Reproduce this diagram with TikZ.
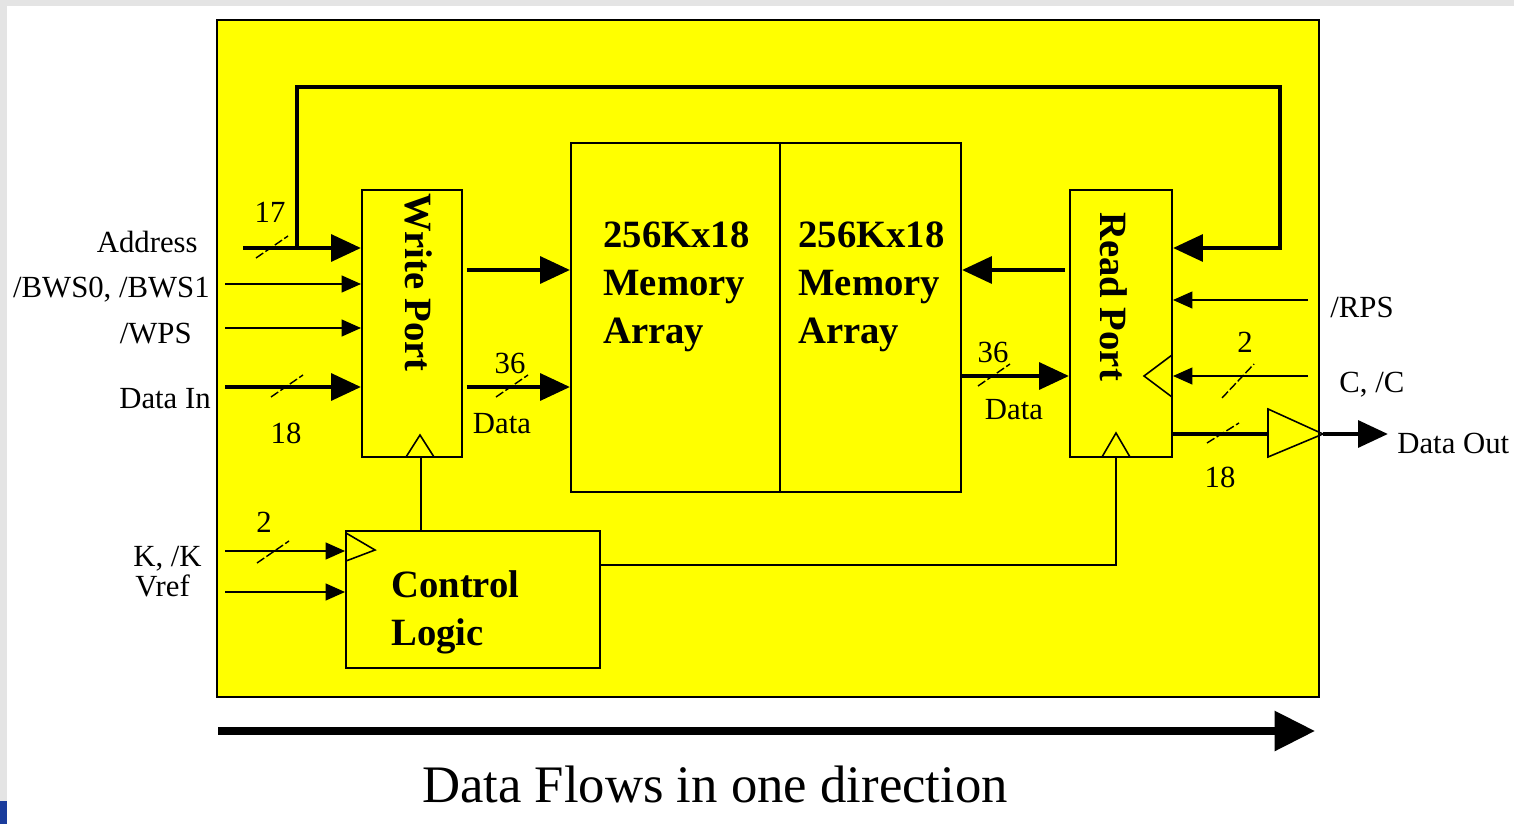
\documentclass[tikz,border=0pt]{standalone}
\usepackage{fontspec}
\setmainfont{Liberation Serif}
\usetikzlibrary{arrows.meta}
\definecolor{chipyellow}{HTML}{FFFF00}
\definecolor{framegrey}{HTML}{E4E4E4}
\definecolor{logoblue}{HTML}{1A3C9C}

\begin{document}
\begin{tikzpicture}[x=0.02cm, y=-0.02cm,
  lbl/.style={font=\fontsize{17.5}{20}\selectfont, inner sep=0pt},
  boldlbl/.style={font=\fontsize{22}{27.5}\selectfont\bfseries, inner sep=0pt, align=left},
  blockbox/.style={draw, line width=1.1pt, fill=chipyellow, inner sep=0pt},
  thickarrow/.style={line width=2.8pt, -{Triangle[length=17pt, width=15pt]}},
  thinarrow/.style={line width=1.1pt, -{Triangle[length=11pt, width=9.5pt]}},
  thinline/.style={line width=0.9pt},
  slash/.style={line width=0.8pt, dash pattern=on 5pt off 1.5pt}]
  \useasboundingbox (0,0) rectangle (1514,824);
  % screen frame
  \fill[framegrey] (0,0) rectangle (1514,824);
  \fill[white] (7,6) rectangle (1514,824);
  \fill[logoblue] (0,801) rectangle (7,824);
  % chip outline
  \draw[line width=1.1pt, fill=chipyellow] (217,20) rectangle (1319,697);
  % blocks
  \node[blockbox, minimum width=2cm, minimum height=5.34cm] (wport) at (412,323.5) {};
  \node[blockbox, minimum width=4.18cm, minimum height=6.98cm] (mema) at (675.5,317.5) {};
  \node[blockbox, minimum width=3.62cm, minimum height=6.98cm] (memb) at (870.5,317.5) {};
  \node[blockbox, minimum width=2.04cm, minimum height=5.34cm] (rport) at (1121,323.5) {};
  \node[blockbox, minimum width=5.08cm, minimum height=2.74cm] (ctrl) at (473,599.5) {};
  % block texts
  \node[boldlbl, rotate=-90, anchor=west] (wporttxt) at (419,193) {Write Port};
  \node[boldlbl, rotate=-90, anchor=west] (rporttxt) at (1114,212) {Read Port};
  \node[boldlbl, anchor=north west] (mematxt) at (603,221) {256Kx18\\Memory\\Array};
  \node[boldlbl, anchor=north west] (membtxt) at (798,221) {256Kx18\\Memory\\Array};
  \node[boldlbl, anchor=north west] (ctrltxt) at (391,570) {Control\\Logic};
  % free ends and corners
  \coordinate (addrin) at (243,248);
  \coordinate (bwsin) at (225,284);
  \coordinate (wpsin) at (225,328);
  \coordinate (dinin) at (225,387);
  \coordinate (kin) at (225,551);
  \coordinate (vrefin) at (225,592);
  \coordinate (rpsin) at (1308,300);
  \coordinate (cin) at (1308,376);
  \coordinate (junc) at (297,248);
  \coordinate (fbtop) at (297,87);
  \coordinate (fbr) at (1280,248);
  \coordinate (ya) at (0,270);
  \coordinate (yb) at (0,387);
  \coordinate (yc) at (0,376);
  \coordinate (wclk) at (421,457);
  \coordinate (rclk) at (1116,457);
  \coordinate (ctrlout) at (600,565);
  \coordinate (bufin) at (1268,434);
  \coordinate (bufout) at (1323,434);
  \coordinate (dout) at (1388,434);
  \coordinate (flowl) at (218,731);
  \coordinate (flowr) at (1315,731);
  % inputs of write port and control logic
  \draw[thickarrow] (addrin) -- (addrin -| wport.west);
  \draw[thinarrow] (bwsin) -- (bwsin -| wport.west);
  \draw[thinarrow] (wpsin) -- (wpsin -| wport.west);
  \draw[thickarrow] (dinin) -- (dinin -| wport.west);
  \draw[thinarrow] (kin) -- (kin -| ctrl.west);
  \draw[thinarrow] (vrefin) -- (vrefin -| ctrl.west);
  % address feedback to read port
  \draw[thickarrow] (junc) -- (fbtop) -| (fbr) -- (fbr -| rport.east);
  % data paths through the arrays
  \draw[thickarrow, shorten <=2.2pt] (wport.east |- ya) -- (mema.west |- ya);
  \draw[thickarrow, shorten <=2.2pt] (wport.east |- yb) -- (mema.west |- yb);
  \draw[thickarrow, shorten <=2.2pt] (rport.west |- ya) -- (memb.east |- ya);
  \draw[thickarrow] (memb.east |- yc) -- (rport.west |- yc);
  % inputs of read port
  \draw[thinarrow] (rpsin) -- (rpsin -| rport.east);
  \draw[thinarrow] (cin) -- (cin -| rport.east);
  % clock lines
  \draw[thinline] (wclk |- ctrl.north) -- (wclk);
  \draw[thinline] (ctrlout) -| (rclk);
  % clock inputs
  \draw[thinline] (406,457) -- (420,435) -- (434,457);
  \draw[thinline] (1102,457) -- (1116,433) -- (1130,457);
  \draw[thinline] (1172,355) -- (1144,376) -- (1172,397);
  \draw[thinline] (346,533) -- (375,550) -- (346,561);
  % output buffer
  \draw[line width=2.8pt] (rport.east |- bufin) -- (bufin);
  \draw[thinline] (1268,409) -- (bufout) -- (1268,457) -- cycle;
  \draw[thickarrow] (bufout) -- (dout);
  % bus slashes
  \foreach \x/\y/\h in {272/247/11, 287/386/11, 512/386/11, 273/552/11, 994/375/11, 1238/381/17, 1223/433/10}
    \draw[slash] (\x-16,\y+\h) -- (\x+16,\y-\h);
  % bus widths
  \foreach \x/\y/\w in {270/223/17, 286/443/18, 510/373/36, 993/362/36, 1245/352/2, 1220/487/18, 264/532/2}
    \node[lbl, anchor=base] (bw\x) at (\x,\y) {\w};
  % signal names
  \node[lbl, anchor=base east] (addrlbl) at (198,253) {Address};
  \node[lbl, anchor=base east] (bwslbl) at (210,297) {/BWS0, /BWS1};
  \node[lbl, anchor=base east] (wpslbl) at (192,343) {/WPS};
  \node[lbl, anchor=base east] (dinlbl) at (211,408) {Data In};
  \node[lbl, anchor=base west] (klbl) at (133,566) {K, /K};
  \node[lbl, anchor=base west] (vreflbl) at (135,596) {Vref};
  \node[lbl, anchor=base] (wdatalbl) at (502,433) {Data};
  \node[lbl, anchor=base] (rdatalbl) at (1014,419) {Data};
  \node[lbl, anchor=base west] (rpslbl) at (1330,317) {/RPS};
  \node[lbl, anchor=base west] (clbl) at (1339,392) {C, /C};
  \node[lbl, anchor=base west] (doutlbl) at (1397,453) {Data Out};
  % flow direction
  \draw[line width=4pt, -{Triangle[length=23pt, width=22pt]}] (flowl) -- (flowr);
  \node[font=\fontsize{30}{36}\selectfont, anchor=base, inner sep=0pt] (flowtxt) at (715,802) {Data Flows in one direction};
\end{tikzpicture}
\end{document}
